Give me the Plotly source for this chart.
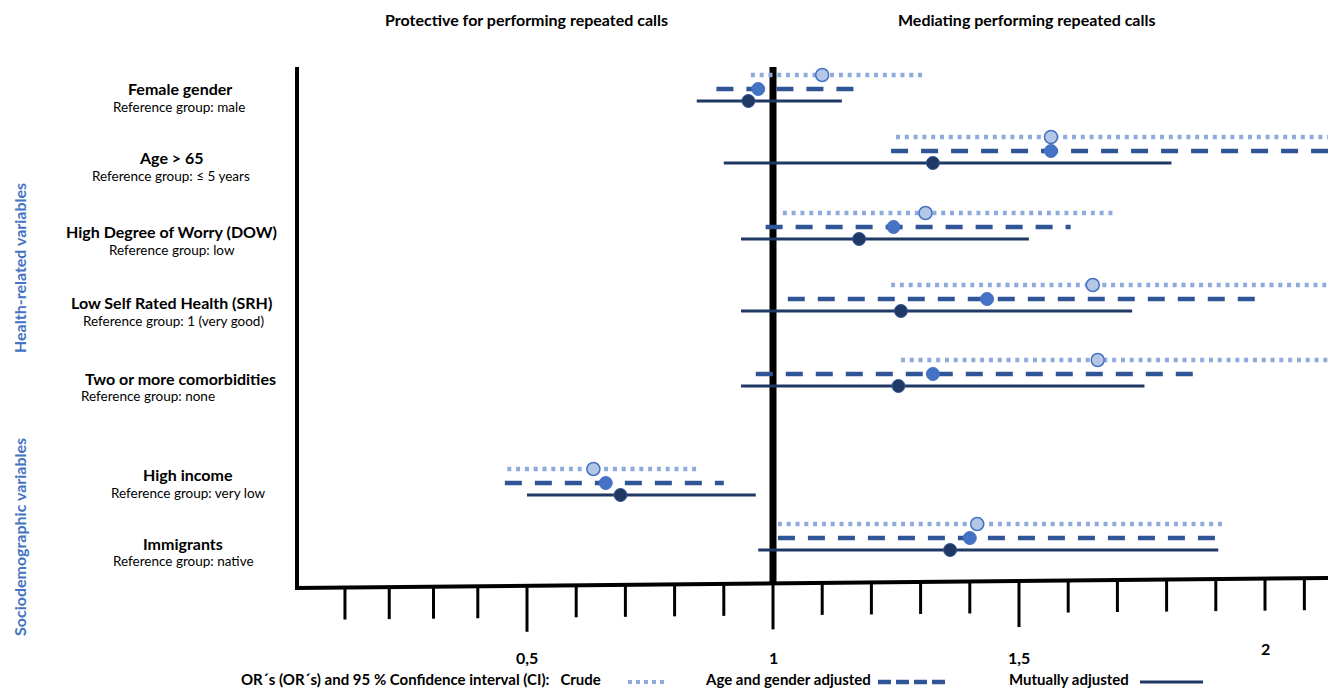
import plotly.graph_objects as go

# ---------------- data ----------------
variables = ["Female gender", "Age > 65", "High Degree of Worry (DOW)",
             "Low Self Rated Health (SRH)", "Two or more comorbidities",
             "High income", "Immigrants"]
reference_groups = ["Reference group: male", "Reference group: \u2264 5 years",
                    "Reference group: low", "Reference group: 1 (very good)",
                    "Reference group: none", "Reference group: very low",
                    "Reference group: native"]

crude_or = [1.10, 1.565, 1.31, 1.65, 1.66, 0.635, 1.415]
crude_lo = [0.955, 1.25, 1.02, 1.24, 1.26, 0.46, 1.01]
crude_hi = [1.31, 2.2, 1.69, 2.2, 2.2, 0.85, 1.92]

adj_or = [0.97, 1.565, 1.245, 1.435, 1.325, 0.66, 1.40]
adj_lo = [0.885, 1.24, 0.985, 1.03, 0.965, 0.455, 1.01]
adj_hi = [1.165, 2.2, 1.605, 1.985, 1.855, 0.90, 1.905]

mut_or = [0.95, 1.325, 1.175, 1.26, 1.255, 0.69, 1.36]
mut_lo = [0.845, 0.90, 0.935, 0.935, 0.935, 0.50, 0.97]
mut_hi = [1.14, 1.81, 1.52, 1.73, 1.755, 0.965, 1.905]

tick_values = [0.13, 0.22, 0.31, 0.4, 0.5, 0.6, 0.7, 0.8, 0.9, 1.0, 1.1, 1.2,
               1.3, 1.4, 1.5, 1.6, 1.7, 1.8, 1.9, 2.0, 2.08]
major_ticks = [0.5, 1.0, 1.5]
label_ticks = [0.5, 1.0, 1.5, 2.0]
label_texts = ["0,5", "1", "1,5", "2"]

# ---------------- layout helpers (pixel geometry) ----------------
W, H = 1328, 688
X_ONE, PX_UNIT = 773, 492          # pixel of OR=1 and pixels per unit
def v2px(v):
    return X_ONE + (v - 1) * PX_UNIT
x_range = [1 + (0 - X_ONE) / PX_UNIT, 1 + (W - X_ONE) / PX_UNIT]
AX_LEFT_PX = 297
x_left = 1 + (AX_LEFT_PX - X_ONE) / PX_UNIT

row_y = [89, 151, 227, 299, 374, 483, 538]
offsets = {"crude": -14, "adj": 0, "mut": 12}

def axis_y(v):   # slightly tilted base line
    px = v2px(v)
    return 588 - 10 * (px - AX_LEFT_PX) / (W - AX_LEFT_PX)

FONT = "Lato"
LIGHT = "#8FAADC"
MID = "#2F5597"
NAVY = "#1F3864"

fig = go.Figure()

def add_series(lo, hi, orv, off, color, width, dash, mfill, mline, mlw):
    xs, ys = [], []
    for l, h, r in zip(lo, hi, row_y):
        xs += [l, h, None]
        ys += [r + off, r + off, None]
    fig.add_trace(go.Scatter(x=xs, y=ys, mode="lines",
                             line=dict(color=color, width=width, dash=dash),
                             hoverinfo="skip", showlegend=False))
    fig.add_trace(go.Scatter(x=orv, y=[r + off for r in row_y], mode="markers",
                             marker=dict(size=13, color=mfill,
                                         line=dict(color=mline, width=mlw)),
                             showlegend=False))

add_series(crude_lo, crude_hi, crude_or, offsets["crude"], LIGHT, 4.5,
           "4px,4.8px", "#B4C7E7", "#4472C4", 1.5)
add_series(adj_lo, adj_hi, adj_or, offsets["adj"], MID, 4.5,
           "17px,13px", "#4472C4", "#4472C4", 1)
add_series(mut_lo, mut_hi, mut_or, offsets["mut"], NAVY, 3,
           "solid", NAVY, "#2F5597", 1)

shapes = []
# vertical reference line at OR = 1
shapes.append(dict(type="line", xref="x", yref="y", x0=1, x1=1, y0=67, y1=585,
                   line=dict(color="black", width=7), layer="below"))
# left axis line
shapes.append(dict(type="line", xref="x", yref="y", x0=x_left, x1=x_left,
                   y0=67, y1=590, line=dict(color="black", width=4)))
# tilted bottom axis line
shapes.append(dict(type="line", xref="x", yref="y", x0=x_left - 0.004,
                   x1=x_range[1], y0=axis_y(x_left - 0.004),
                   y1=axis_y(x_range[1]), line=dict(color="black", width=4)))
# tick marks
for t in tick_values:
    ln = 46 if t in major_ticks else 32
    y0 = axis_y(t)
    shapes.append(dict(type="line", xref="x", yref="y", x0=t, x1=t,
                       y0=y0, y1=y0 + ln, line=dict(color="black", width=3)))

annotations = []
label_y = [657, 657, 657, 648]
for t, txt, ly in zip(label_ticks, label_texts, label_y):
    annotations.append(dict(x=t, y=ly, xref="x", yref="y", text="<b>" + txt + "</b>",
                            showarrow=False, font=dict(family=FONT, size=16,
                                                       color="black"),
                            xanchor="center", yanchor="middle"))

# headers
annotations.append(dict(x=526 / W, y=19, xref="paper", yref="y", xanchor="center",
                        text="<b>Protective for performing repeated calls</b>",
                        showarrow=False, font=dict(family=FONT, size=16, color="black")))
annotations.append(dict(x=1026 / W, y=19, xref="paper", yref="y", xanchor="center",
                        text="<b>Mediating performing repeated calls</b>",
                        showarrow=False, font=dict(family=FONT, size=16, color="black")))

# variable labels
name_x = [180, 171, 171, 171, 180, 188, 183]
name_y = [88, 157, 231, 302, 378, 474, 543]
sub_x = [179, 171, 172, 173, 148, 188, 183]
sub_y = [107, 176, 250, 321, 396, 493, 561]
for i, (nm, rg) in enumerate(zip(variables, reference_groups)):
    annotations.append(dict(x=name_x[i] / W, y=name_y[i], xref="paper", yref="y",
                            xanchor="center", yanchor="middle",
                            text="<b>" + nm + "</b>", showarrow=False,
                            font=dict(family=FONT, size=16, color="black")))
    annotations.append(dict(x=sub_x[i] / W, y=sub_y[i], xref="paper", yref="y",
                            xanchor="center", yanchor="middle",
                            text=rg, showarrow=False,
                            font=dict(family=FONT, size=13.5, color="black")))

# side group labels
for txt, cy in [("Health-related variables", 268), ("Sociodemographic variables", 537)]:
    annotations.append(dict(x=19 / W, y=cy, xref="paper", yref="y", text="<b>" + txt + "</b>",
                            xanchor="center", yanchor="middle",
                            textangle=-90, showarrow=False,
                            font=dict(family=FONT, size=16, color="#4472C4")))

# bottom legend
LEG_Y = 679
annotations.append(dict(x=603 / W, y=LEG_Y, xref="paper", yref="y", xanchor="right",
                        yanchor="middle",
                        text="<b>OR\u00b4s (OR\u00b4s) and 95 % Confidence interval (CI):   Crude</b>",
                        showarrow=False, font=dict(family=FONT, size=15, color="black")))
annotations.append(dict(x=873 / W, y=LEG_Y, xref="paper", yref="y", xanchor="right",
                        yanchor="middle", text="<b>Age and gender adjusted</b>",
                        showarrow=False, font=dict(family=FONT, size=15, color="black")))
annotations.append(dict(x=1131 / W, y=LEG_Y, xref="paper", yref="y", xanchor="right",
                        yanchor="middle", text="<b>Mutually adjusted</b>",
                        showarrow=False, font=dict(family=FONT, size=15, color="black")))
shapes.append(dict(type="line", xref="paper", yref="y", x0=628 / W, x1=668 / W,
                   y0=682, y1=682, line=dict(color=LIGHT, width=4, dash="4px,4px")))
shapes.append(dict(type="line", xref="paper", yref="y", x0=878 / W, x1=945 / W,
                   y0=682, y1=682, line=dict(color=MID, width=4.5, dash="13px,5px")))
shapes.append(dict(type="line", xref="paper", yref="y", x0=1140 / W, x1=1203 / W,
                   y0=682, y1=682, line=dict(color=NAVY, width=3)))

fig.update_layout(
    width=W, height=H,
    margin=dict(l=0, r=0, t=0, b=0),
    paper_bgcolor="white", plot_bgcolor="white",
    xaxis=dict(range=x_range, visible=False, domain=[0, 1], fixedrange=True),
    yaxis=dict(range=[H, 0], visible=False, domain=[0, 1], fixedrange=True),
    shapes=shapes, annotations=annotations, showlegend=False,
)

fig.write_html("out.html", config={"displayModeBar": False},
               post_script="document.body.style.margin='0px';"
                           "document.body.style.overflow='hidden';")
